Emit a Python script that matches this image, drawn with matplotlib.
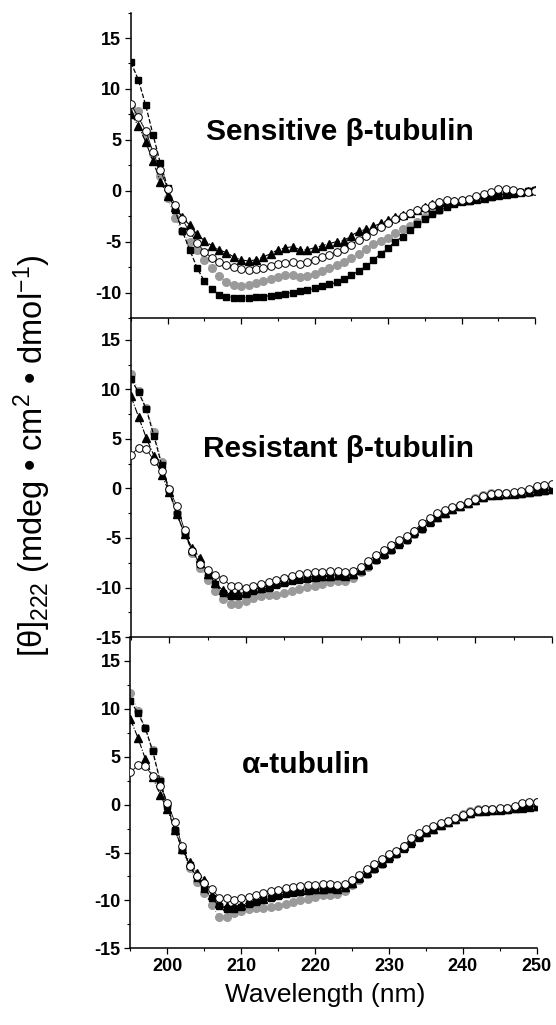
import numpy as np
import matplotlib
matplotlib.use('Agg')
import matplotlib.pyplot as plt
from matplotlib.ticker import MultipleLocator

plt.rcParams['font.family'] = ['Liberation Sans', 'DejaVu Sans']
plt.rcParams['mathtext.fontset'] = 'custom'
plt.rcParams['mathtext.rm'] = 'Liberation Sans'
plt.rcParams['mathtext.it'] = 'Liberation Sans:italic'
plt.rcParams['mathtext.default'] = 'regular'
plt.rcParams['axes.unicode_minus'] = False

# Wavelength grid (nm), one reading per nm
WAVELENGTH = list(range(195, 251))

# Sensitive beta-tubulin
S_SQUARE = [12.6, 10.9, 8.4, 5.5, 2.7, 0.3, -1.9, -4.0, -5.8, -7.6,
            -8.9, -9.7, -10.2, -10.4, -10.5, -10.5, -10.5, -10.4, -10.4, -10.3,
            -10.2, -10.1, -10.0, -9.9, -9.8, -9.6, -9.4, -9.2, -9.0, -8.7,
            -8.3, -7.9, -7.4, -6.8, -6.2, -5.6, -5.0, -4.5, -3.9, -3.3,
            -2.8, -2.3, -1.9, -1.6, -1.3, -1.1, -1.0, -0.85, -0.75, -0.6,
            -0.45, -0.3, -0.2, -0.1, -0.05, 0.1]
S_GRAY = [8.3, 7.8, 5.6, 3.6, 1.4, -0.75, -2.7, -4.0, -5.0, -5.8,
          -6.8, -7.6, -8.4, -9.0, -9.3, -9.4, -9.3, -9.1, -8.9, -8.7,
          -8.5, -8.3, -8.3, -8.5, -8.4, -8.2, -7.9, -7.6, -7.3, -7.0,
          -6.65, -6.2, -5.7, -5.2, -4.9, -4.6, -4.2, -3.8, -3.5, -3.05,
          -2.6, -2.2, -1.9, -1.5, -1.2, -1.05, -0.95, -0.85, -0.7, -0.55,
          -0.4, -0.3, -0.2, -0.1, -0.05, 0.05]
S_OPEN = [8.5, 7.2, 5.9, 3.8, 2.0, 0.2, -1.4, -2.8, -4.1, -5.1,
          -6.0, -6.6, -7.0, -7.3, -7.5, -7.7, -7.8, -7.7, -7.6, -7.4,
          -7.2, -7.1, -7.0, -7.15, -7.0, -6.8, -6.5, -6.3, -6.0, -5.7,
          -5.3, -4.8, -4.4, -4.0, -3.6, -3.2, -2.8, -2.5, -2.2, -1.9,
          -1.7, -1.4, -1.1, -0.95, -1.0, -0.95, -0.8, -0.5, -0.3, -0.1,
          0.2, 0.2, 0.05, -0.1, -0.15, 0.0]
S_TRI = [7.5, 6.4, 4.8, 2.9, 0.9, -0.5, -1.6, -2.6, -3.4, -4.3,
         -4.9, -5.4, -5.8, -6.1, -6.5, -6.8, -6.9, -6.8, -6.5, -6.2,
         -5.8, -5.6, -5.5, -5.8, -5.8, -5.6, -5.4, -5.2, -5.0, -4.9,
         -4.4, -4.0, -3.8, -3.5, -3.2, -2.9, -2.6, -2.4, -2.2, -1.9,
         -1.6, -1.3, -1.15, -1.0, -1.0, -0.95, -0.9, -0.8, -0.7, -0.55,
         -0.45, -0.3, -0.2, -0.1, -0.05, 0.05]

# Resistant beta-tubulin
R_SQUARE = [11.0, 9.7, 8.0, 5.3, 2.4, -0.2, -2.6, -4.6, -6.3, -7.6,
            -8.7, -9.6, -10.6, -10.9, -10.9, -10.7, -10.4, -10.2, -10.0, -9.7,
            -9.5, -9.3, -9.2, -9.1, -9.0, -8.9, -8.9, -8.8, -8.8, -8.7,
            -8.3, -7.8, -7.2, -6.7, -6.2, -5.7, -5.2, -4.6, -4.1, -3.5,
            -3.0, -2.6, -2.2, -1.9, -1.6, -1.25, -0.95, -0.75, -0.7, -0.65,
            -0.6, -0.55, -0.45, -0.35, -0.25, -0.2]
R_GRAY = [11.6, 9.8, 8.1, 5.7, 2.7, -0.2, -2.5, -4.5, -6.5, -8.0,
          -9.2, -10.4, -11.2, -11.7, -11.65, -11.4, -11.1, -10.9, -10.8, -10.8,
          -10.6, -10.4, -10.2, -9.95, -9.8, -9.6, -9.45, -9.3, -9.3, -9.0,
          -8.4, -7.9, -7.25, -6.7, -6.2, -5.6, -5.2, -4.55, -4.05, -3.4,
          -2.9, -2.4, -2.0, -1.7, -1.35, -1.0, -0.7, -0.5, -0.5, -0.45,
          -0.45, -0.35, -0.2, 0.1, 0.2, 0.25]
R_OPEN = [3.4, 4.1, 4.0, 2.8, 1.8, -0.1, -1.8, -4.2, -6.3, -7.6,
          -8.2, -8.7, -9.1, -9.8, -9.8, -10.0, -9.8, -9.6, -9.4, -9.2,
          -9.0, -8.8, -8.6, -8.5, -8.4, -8.4, -8.3, -8.3, -8.4, -8.3,
          -7.9, -7.3, -6.7, -6.2, -5.7, -5.2, -4.8, -4.3, -3.5, -3.0,
          -2.5, -2.2, -1.9, -1.7, -1.4, -1.1, -0.8, -0.6, -0.5, -0.45,
          -0.4, -0.3, -0.1, 0.2, 0.35, 0.4]
R_TRI = [9.3, 7.2, 5.1, 3.3, 1.4, -0.4, -2.6, -4.6, -6.0, -7.0,
         -8.6, -9.5, -10.3, -10.6, -10.6, -10.5, -10.2, -10.0, -9.8, -9.5,
         -9.3, -9.1, -9.0, -8.9, -8.9, -8.8, -8.8, -8.7, -8.8, -8.6,
         -8.2, -7.6, -7.0, -6.5, -6.0, -5.4, -4.9, -4.3, -3.8, -3.3,
         -2.9, -2.5, -2.1, -1.8, -1.5, -1.15, -0.9, -0.7, -0.65, -0.6,
         -0.55, -0.5, -0.4, -0.3, -0.2, -0.1]

# alpha-tubulin
A_SQUARE = [10.8, 9.6, 8.0, 5.6, 2.5, -0.1, -2.6, -4.6, -6.3, -7.7,
            -8.8, -9.7, -10.6, -10.9, -10.9, -10.7, -10.4, -10.2, -9.9, -9.7,
            -9.5, -9.3, -9.2, -9.1, -9.0, -8.9, -8.9, -8.8, -8.8, -8.7,
            -8.3, -7.8, -7.2, -6.7, -6.2, -5.7, -5.2, -4.6, -4.1, -3.5,
            -3.0, -2.6, -2.2, -1.9, -1.6, -1.25, -0.95, -0.75, -0.7, -0.65,
            -0.6, -0.55, -0.45, -0.35, -0.25, -0.2]
A_GRAY = [11.7, 9.8, 8.0, 5.75, 2.6, 0.0, -2.6, -4.7, -6.6, -8.1,
          -9.2, -10.5, -11.75, -11.7, -11.3, -11.1, -10.9, -10.8, -10.8, -10.7,
          -10.6, -10.4, -10.2, -9.95, -9.8, -9.6, -9.45, -9.4, -9.3, -9.0,
          -8.4, -7.9, -7.25, -6.7, -6.2, -5.6, -5.2, -4.55, -4.05, -3.4,
          -2.9, -2.4, -2.0, -1.7, -1.35, -1.0, -0.7, -0.5, -0.5, -0.45,
          -0.45, -0.35, -0.2, 0.1, 0.2, 0.25]
A_OPEN = [3.4, 4.1, 4.0, 3.0, 2.0, 0.2, -1.8, -4.3, -6.4, -7.5,
          -8.2, -8.8, -9.7, -9.7, -10.0, -9.7, -9.6, -9.4, -9.2, -9.0,
          -8.9, -8.7, -8.6, -8.5, -8.4, -8.4, -8.3, -8.3, -8.4, -8.3,
          -7.9, -7.3, -6.7, -6.2, -5.7, -5.2, -4.8, -4.3, -3.5, -3.0,
          -2.5, -2.2, -1.9, -1.7, -1.4, -1.1, -0.8, -0.6, -0.5, -0.45,
          -0.4, -0.3, -0.1, 0.2, 0.3, 0.3]
A_TRI = [8.9, 7.0, 4.8, 2.9, 1.05, -0.5, -2.6, -4.6, -6.0, -7.1,
         -7.9, -9.4, -10.3, -10.6, -10.6, -10.5, -10.2, -10.0, -9.8, -9.5,
         -9.3, -9.1, -9.0, -8.9, -8.9, -8.8, -8.8, -8.7, -8.8, -8.6,
         -8.2, -7.6, -7.0, -6.5, -6.0, -5.4, -4.9, -4.3, -3.8, -3.3,
         -2.9, -2.5, -2.1, -1.8, -1.5, -1.15, -0.9, -0.7, -0.65, -0.6,
         -0.55, -0.5, -0.4, -0.3, -0.2, -0.1]

TITLES = [u'Sensitive \u03b2-tubulin', u'Resistant \u03b2-tubulin', u'\u03b1-tubulin']
PANELS = [(S_SQUARE, S_GRAY, S_OPEN, S_TRI),
          (R_SQUARE, R_GRAY, R_OPEN, R_TRI),
          (A_SQUARE, A_GRAY, A_OPEN, A_TRI)]
YLIMS = [(-12.5, 17.5), (-15, 17.2), (-15, 17.5)]
YTICKS = [[-10, -5, 0, 5, 10, 15], [-15, -10, -5, 0, 5, 10, 15], [-15, -10, -5, 0, 5, 10, 15]]

# axes rectangles [left, bottom, width, height] in figure fraction
RECTS = [[0.2356, 0.6898, 0.7266, 0.2979],
         [0.2356, 0.3785, 0.7572, 0.3112],
         [0.2347, 0.0748, 0.7306, 0.3037]]
TITLE_POS = [(0.517, 0.583), (0.494, 0.565), (0.432, 0.562)]

GRAY = '#9a9a9a'

fig = plt.figure(figsize=(5.56, 10.25), dpi=100)

for i in range(3):
    ax = fig.add_axes(RECTS[i])
    sq, gr, op, tr = PANELS[i]
    ax.plot(WAVELENGTH, gr, ls=':', lw=0.8, color=GRAY, marker='o', ms=5.5,
            mfc=GRAY, mec=GRAY, zorder=2)
    ax.plot(WAVELENGTH, sq, ls='--', lw=0.9, color='black', marker='s', ms=5,
            mfc='black', mec='black', zorder=3)
    ax.plot(WAVELENGTH, tr, ls='-.', lw=0.8, color='black', marker='^', ms=6,
            mfc='black', mec='black', zorder=4)
    ax.plot(WAVELENGTH, op, ls='-', lw=0.6, color='black', marker='o', ms=5.5,
            mfc='white', mec='black', mew=0.7, zorder=5)

    ax.set_xlim(195, 250)
    ax.set_ylim(*YLIMS[i])
    ax.set_yticks(YTICKS[i])
    ax.yaxis.set_minor_locator(MultipleLocator(2.5))
    ax.set_xticks([200, 210, 220, 230, 240, 250])
    ax.xaxis.set_minor_locator(MultipleLocator(5))
    ax.spines['top'].set_visible(False)
    ax.spines['right'].set_visible(False)
    ax.spines['left'].set_linewidth(1.1)
    ax.spines['bottom'].set_linewidth(1.1)
    ax.tick_params(which='major', direction='out', length=4.5, width=0.9,
                   labelsize=13, pad=2.5)
    ax.tick_params(which='minor', direction='out', length=2.5, width=0.8)
    for lab in ax.get_yticklabels() + ax.get_xticklabels():
        lab.set_fontweight('bold')
    if i < 2:
        ax.set_xticklabels([])
    ax.set_facecolor('none')
    ax.text(TITLE_POS[i][0], TITLE_POS[i][1], TITLES[i], transform=ax.transAxes,
            ha='center', va='baseline', fontsize=21.5, fontweight='bold')

fig.text(0.058, 0.555, u'[\u03b8]$_{222}$ (mdeg \u2022 cm$^{2}$ \u2022 dmol$^{-1}$)',
         rotation=90, ha='center', va='center', fontsize=23.5)
fig.text(0.585, 0.029, 'Wavelength (nm)', ha='center', va='center', fontsize=19)

fig.savefig('out.png', dpi=100)
